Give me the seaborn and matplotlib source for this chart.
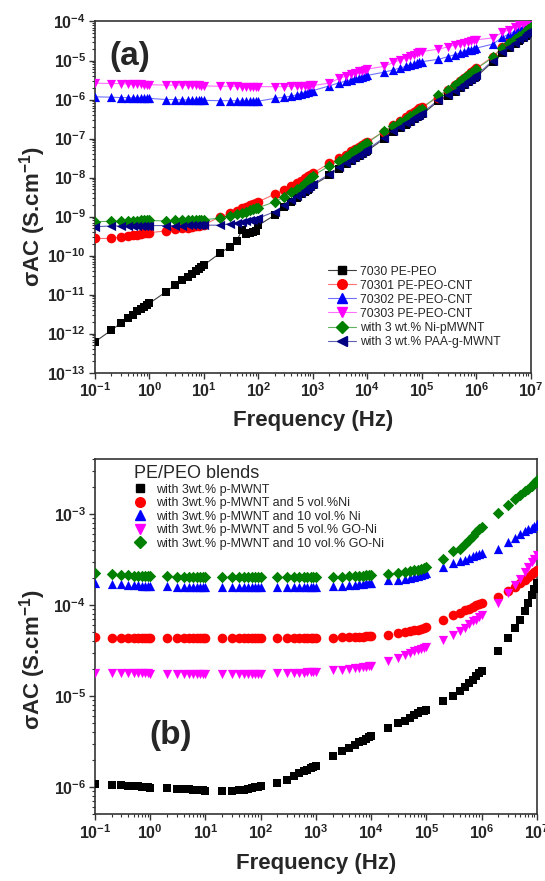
import numpy as np
import pandas as pd
import matplotlib
matplotlib.use("Agg")
import matplotlib.pyplot as plt
import seaborn as sns
from matplotlib.lines import Line2D
from matplotlib.ticker import LogLocator, FuncFormatter, NullFormatter

# ---------------------------------------------------------------- data
# measurement frequencies (Hz)
FREQ = [0.1, 0.2, 0.3, 0.4, 0.5, 0.6, 0.7, 0.8, 0.9,
        1, 2, 3, 4, 5, 6, 7, 8, 9,
        10, 20, 30, 40, 50, 60, 70, 80, 90,
        100, 200, 300, 400, 500, 600, 700, 800, 900,
        1e3, 2e3, 3e3, 4e3, 5e3, 6e3, 7e3, 8e3, 9e3,
        1e4, 2e4, 3e4, 4e4, 5e4, 6e4, 7e4, 8e4, 9e4,
        1e5, 2e5, 3e5, 4e5, 5e5, 6e5, 7e5, 8e5, 9e5,
        1e6, 2e6, 3e6, 4e6, 5e6, 6e6, 7e6, 8e6, 9e6,
        1e7]

# (a) log10 of AC conductivity (S/cm)
A_LABELS = ["7030 PE-PEO", "70301 PE-PEO-CNT", "70302 PE-PEO-CNT",
            "70303 PE-PEO-CNT", "with 3 wt.% Ni-pMWNT", "with 3 wt.% PAA-g-MWNT"]

A_7030 = [-12.21, -11.91, -11.73, -11.61, -11.51, -11.43, -11.37, -11.31, -11.26,
          -11.22, -10.93, -10.75, -10.63, -10.54, -10.46, -10.39, -10.34, -10.29,
          -10.24, -9.93, -9.77, -9.62, -9.34, -9.45, -9.41, -9.39, -9.37,
          -9.22, -8.96, -8.76, -8.62, -8.52, -8.43, -8.36, -8.31, -8.25,
          -8.20, -7.94, -7.77, -7.66, -7.57, -7.50, -7.44, -7.39, -7.35,
          -7.31, -7.01, -6.84, -6.73, -6.64, -6.57, -6.51, -6.46, -6.42,
          -6.38, -6.04, -5.92, -5.80, -5.70, -5.62, -5.56, -5.50, -5.45,
          -5.41, -5.03, -4.82, -4.68, -4.58, -4.49, -4.42, -4.36, -4.30,
          -4.25]
A_70301 = [-9.56, -9.56, -9.52, -9.50, -9.48, -9.46, -9.45, -9.43, -9.42,
           -9.41, -9.37, -9.33, -9.30, -9.28, -9.26, -9.25, -9.23, -9.22,
           -9.21, -9.00, -8.92, -8.85, -8.79, -8.75, -8.71, -8.68, -8.65,
           -8.62, -8.42, -8.32, -8.22, -8.15, -8.08, -8.02, -7.97, -7.93,
           -7.89, -7.63, -7.51, -7.41, -7.33, -7.26, -7.21, -7.16, -7.12,
           -7.08, -6.82, -6.65, -6.54, -6.45, -6.38, -6.32, -6.27, -6.22,
           -6.18, -5.95, -5.76, -5.63, -5.52, -5.44, -5.37, -5.30, -5.25,
           -5.20, -4.90, -4.65, -4.52, -4.42, -4.34, -4.27, -4.21, -4.16,
           -4.10]
A_70302 = [-5.93, -5.94, -5.95, -5.95, -5.96, -5.96, -5.96, -5.97, -5.97,
           -5.97, -6.00, -6.00, -6.01, -6.01, -6.01, -6.01, -6.01, -6.02,
           -6.02, -6.03, -6.03, -6.03, -6.04, -6.04, -6.04, -6.04, -6.04,
           -6.04, -5.97, -5.94, -5.91, -5.88, -5.85, -5.83, -5.81, -5.79,
           -5.77, -5.65, -5.57, -5.53, -5.49, -5.46, -5.44, -5.42, -5.40,
           -5.38, -5.30, -5.24, -5.19, -5.15, -5.12, -5.09, -5.07, -5.05,
           -5.03, -4.97, -4.90, -4.85, -4.81, -4.77, -4.74, -4.72, -4.70,
           -4.68, -4.58, -4.40, -4.32, -4.25, -4.19, -4.14, -4.10, -4.06,
           -4.02]
A_70303 = [-5.58, -5.59, -5.59, -5.60, -5.60, -5.61, -5.61, -5.62, -5.62,
           -5.62, -5.63, -5.63, -5.63, -5.64, -5.64, -5.64, -5.64, -5.65,
           -5.65, -5.66, -5.66, -5.66, -5.67, -5.67, -5.67, -5.67, -5.67,
           -5.67, -5.67, -5.67, -5.66, -5.66, -5.66, -5.65, -5.65, -5.64,
           -5.64, -5.58, -5.46, -5.40, -5.35, -5.31, -5.28, -5.26, -5.24,
           -5.22, -5.15, -5.05, -4.98, -4.93, -4.88, -4.85, -4.82, -4.79,
           -4.77, -4.71, -4.65, -4.60, -4.57, -4.54, -4.52, -4.50, -4.48,
           -4.47, -4.42, -4.28, -4.21, -4.15, -4.10, -4.06, -4.03, -4.00,
           -3.97]
A_NI = [-9.13, -9.12, -9.12, -9.11, -9.11, -9.11, -9.10, -9.10, -9.10,
        -9.10, -9.11, -9.10, -9.10, -9.09, -9.09, -9.09, -9.08, -9.08,
        -9.08, -9.04, -8.98, -8.94, -8.90, -8.87, -8.84, -8.81, -8.79,
        -8.77, -8.62, -8.49, -8.38, -8.30, -8.23, -8.15, -8.08, -8.01,
        -7.95, -7.70, -7.57, -7.46, -7.37, -7.30, -7.24, -7.19, -7.15,
        -7.11, -6.81, -6.69, -6.58, -6.49, -6.42, -6.36, -6.31, -6.27,
        -6.23, -5.89, -5.76, -5.63, -5.52, -5.44, -5.37, -5.31, -5.26,
        -5.21, -4.92, -4.67, -4.55, -4.46, -4.38, -4.31, -4.25, -4.20,
        -4.15]
A_PAA = [-9.26, -9.24, -9.24, -9.24, -9.24, -9.23, -9.23, -9.23, -9.23,
         -9.23, -9.23, -9.23, -9.23, -9.22, -9.22, -9.22, -9.22, -9.22,
         -9.22, -9.22, -9.18, -9.16, -9.14, -9.12, -9.10, -9.08, -9.06,
         -9.04, -8.87, -8.70, -8.58, -8.48, -8.40, -8.33, -8.28, -8.22,
         -8.17, -7.91, -7.74, -7.63, -7.54, -7.47, -7.41, -7.36, -7.32,
         -7.28, -6.98, -6.81, -6.70, -6.61, -6.54, -6.48, -6.43, -6.39,
         -6.35, -6.01, -5.89, -5.77, -5.67, -5.59, -5.53, -5.47, -5.42,
         -5.38, -5.00, -4.79, -4.65, -4.55, -4.46, -4.39, -4.33, -4.27,
         -4.22]

# (b) log10 of AC conductivity (S/cm), PE/PEO blends
B_LABELS = ["with 3wt.% p-MWNT",
            "with 3wt.% p-MWNT and 5 vol.%Ni",
            "with 3wt.% p-MWNT and 10 vol.% Ni",
            "with 3wt.% p-MWNT and 5 vol.% GO-Ni",
            "with 3wt.% p-MWNT and 10 vol.% GO-Ni"]

B_PMWNT = [-5.97, -5.98, -5.98, -5.99, -5.99, -5.99, -6.00, -6.00, -6.00,
           -6.01, -6.01, -6.02, -6.02, -6.02, -6.03, -6.03, -6.03, -6.03,
           -6.04, -6.04, -6.04, -6.03, -6.03, -6.02, -6.01, -6.00, -6.00,
           -5.99, -5.96, -5.92, -5.88, -5.85, -5.83, -5.81, -5.79, -5.78,
           -5.77, -5.66, -5.61, -5.57, -5.54, -5.51, -5.49, -5.47, -5.45,
           -5.44, -5.35, -5.30, -5.27, -5.24, -5.21, -5.19, -5.17, -5.16,
           -5.15, -5.06, -5.00, -4.95, -4.90, -4.86, -4.82, -4.78, -4.75,
           -4.73, -4.51, -4.36, -4.25, -4.16, -4.07, -3.98, -3.89, -3.82,
           -3.76]
B_NI5 = [-4.35, -4.36, -4.36, -4.36, -4.36, -4.36, -4.36, -4.36, -4.36,
         -4.36, -4.36, -4.36, -4.36, -4.36, -4.36, -4.36, -4.36, -4.36,
         -4.36, -4.36, -4.36, -4.36, -4.36, -4.36, -4.36, -4.36, -4.36,
         -4.36, -4.36, -4.36, -4.36, -4.36, -4.36, -4.36, -4.36, -4.36,
         -4.36, -4.36, -4.35, -4.35, -4.35, -4.35, -4.35, -4.34, -4.34,
         -4.34, -4.33, -4.31, -4.30, -4.29, -4.28, -4.27, -4.26, -4.25,
         -4.24, -4.16, -4.11, -4.09, -4.06, -4.04, -4.02, -4.00, -3.99,
         -3.98, -3.91, -3.85, -3.80, -3.76, -3.72, -3.69, -3.66, -3.64,
         -3.61]
B_NI10 = [-3.76, -3.77, -3.77, -3.78, -3.78, -3.78, -3.79, -3.79, -3.79,
          -3.79, -3.79, -3.80, -3.80, -3.80, -3.80, -3.80, -3.80, -3.80,
          -3.80, -3.80, -3.80, -3.80, -3.80, -3.80, -3.80, -3.80, -3.80,
          -3.80, -3.80, -3.80, -3.80, -3.80, -3.80, -3.80, -3.80, -3.80,
          -3.80, -3.79, -3.79, -3.78, -3.78, -3.77, -3.77, -3.76, -3.76,
          -3.76, -3.73, -3.72, -3.71, -3.70, -3.69, -3.68, -3.67, -3.66,
          -3.65, -3.58, -3.54, -3.52, -3.50, -3.48, -3.46, -3.45, -3.44,
          -3.43, -3.38, -3.31, -3.26, -3.22, -3.19, -3.17, -3.15, -3.13,
          -3.11]
B_GONI5 = [-4.75, -4.75, -4.75, -4.75, -4.75, -4.75, -4.75, -4.75, -4.75,
           -4.76, -4.76, -4.76, -4.76, -4.76, -4.76, -4.76, -4.76, -4.76,
           -4.76, -4.76, -4.76, -4.76, -4.76, -4.76, -4.76, -4.76, -4.76,
           -4.76, -4.75, -4.75, -4.75, -4.75, -4.75, -4.74, -4.74, -4.74,
           -4.74, -4.72, -4.71, -4.70, -4.69, -4.69, -4.68, -4.68, -4.67,
           -4.67, -4.62, -4.58, -4.55, -4.53, -4.51, -4.49, -4.48, -4.47,
           -4.46, -4.38, -4.33, -4.29, -4.25, -4.21, -4.18, -4.16, -4.13,
           -4.11, -3.98, -3.87, -3.78, -3.71, -3.64, -3.58, -3.53, -3.49,
           -3.45]
B_GONI10 = [-3.65, -3.66, -3.67, -3.67, -3.68, -3.68, -3.68, -3.68, -3.68,
            -3.68, -3.68, -3.69, -3.69, -3.69, -3.69, -3.69, -3.69, -3.69,
            -3.69, -3.69, -3.69, -3.69, -3.69, -3.69, -3.69, -3.69, -3.69,
            -3.69, -3.69, -3.69, -3.69, -3.69, -3.69, -3.69, -3.69, -3.69,
            -3.69, -3.69, -3.69, -3.68, -3.68, -3.68, -3.68, -3.67, -3.67,
            -3.67, -3.66, -3.65, -3.64, -3.63, -3.62, -3.61, -3.60, -3.59,
            -3.58, -3.49, -3.41, -3.38, -3.33, -3.28, -3.24, -3.20, -3.17,
            -3.14, -2.99, -2.90, -2.84, -2.79, -2.75, -2.72, -2.69, -2.66,
            -2.63]

# ---------------------------------------------------------------- styles
MARK_COLORS = ["#000000", "#ff0000", "#0000ff", "#ff00ff", "#008000", "#000080"]
LINE_COLORS = ["#404040", "#ff7070", "#7070ff", "#ff70ff", "#60b060", "#6060b0"]
MARKERS = ["s", "o", "^", "v", "D", "<"]
MSIZE = [38, 48, 44, 44, 34, 44]

sns.set_theme(style="ticks")
plt.rcParams["font.family"] = ["Liberation Sans", "DejaVu Sans"]
plt.rcParams["mathtext.fontset"] = "custom"
plt.rcParams["mathtext.rm"] = "Liberation Sans:bold"
plt.rcParams["mathtext.bf"] = "Liberation Sans:bold"
plt.rcParams["mathtext.it"] = "Liberation Sans:bold"

SPINE = "#333333"


def long_frame(labels, series):
    rows = []
    for lab, vals in zip(labels, series):
        rows.append(pd.DataFrame({"freq": FREQ,
                                  "sigma": np.power(10.0, np.asarray(vals)),
                                  "sample": lab}))
    return pd.concat(rows, ignore_index=True)


def decade_label(v, pos):
    return r"$\mathbf{10^{%d}}$" % int(round(np.log10(v)))


def style_axes(ax, xlim, ylim):
    ax.set_xscale("log")
    ax.set_yscale("log")
    ax.set_xlim(*xlim)
    ax.set_ylim(*ylim)
    for axis in (ax.xaxis, ax.yaxis):
        axis.set_major_locator(LogLocator(base=10, numticks=30))
        axis.set_minor_locator(LogLocator(base=10, subs=np.arange(2, 10), numticks=30))
        axis.set_major_formatter(FuncFormatter(decade_label))
        axis.set_minor_formatter(NullFormatter())
    ax.tick_params(which="major", direction="out", length=4.5, width=1.0,
                   color=SPINE, labelsize=11.5, pad=2, top=False, right=False)
    ax.tick_params(which="minor", direction="out", length=2.5, width=0.8,
                   color=SPINE, top=False, right=False)
    for sp in ax.spines.values():
        sp.set_visible(True)
        sp.set_color(SPINE)
        sp.set_linewidth(1.2)
    ax.set_xlabel("Frequency (Hz)", fontsize=16, fontweight="bold", va="top")
    ax.set_ylabel("σAC (S.cm$^{\\mathbf{-1}}$)", fontsize=16, fontweight="bold")


fig = plt.figure(figsize=(5.45, 8.81), dpi=100)
ax_a = fig.add_axes([0.1743, 0.5770, 0.800, 0.3986])
ax_b = fig.add_axes([0.1743, 0.0757, 0.811, 0.4030])

# ---------------------------------------------------------------- panel (a)
df_a = long_frame(A_LABELS, [A_7030, A_70301, A_70302, A_70303, A_NI, A_PAA])
style_axes(ax_a, (0.1, 1e7), (1e-13, 1e-4))
sns.lineplot(data=df_a, x="freq", y="sigma", hue="sample",
             palette=dict(zip(A_LABELS, LINE_COLORS)), estimator=None,
             sort=False, linewidth=0.8, legend=False, ax=ax_a)
for lab, col, mk, sz in zip(A_LABELS, MARK_COLORS, MARKERS, MSIZE):
    sns.scatterplot(data=df_a[df_a["sample"] == lab], x="freq", y="sigma",
                    color=col, marker=mk, s=sz, linewidth=0, legend=False,
                    ax=ax_a, zorder=3)

handles_a = [Line2D([], [], color=lc, lw=0.8, marker=mk, markerfacecolor=mc,
                    markeredgecolor=mc, markersize=np.sqrt(sz))
             for lc, mc, mk, sz in zip(LINE_COLORS, MARK_COLORS, MARKERS, MSIZE)]
ax_a.legend(handles_a, A_LABELS, loc="upper left", bbox_to_anchor=(0.534, 0.305),
            frameon=False, fontsize=8.7, handlelength=2.3, handletextpad=0.35,
            labelspacing=0.17, borderpad=0, borderaxespad=0)
ax_a.text(0.08, 0.899, "(a)", transform=ax_a.transAxes, fontsize=24,
          fontweight="bold", ha="center", va="center")
style_axes(ax_a, (0.1, 1e7), (1e-13, 1e-4))
ax_a.xaxis.set_label_coords(0.5, -0.105)
ax_a.yaxis.set_label_coords(-0.108, 0.446)

# ---------------------------------------------------------------- panel (b)
df_b = long_frame(B_LABELS, [B_PMWNT, B_NI5, B_NI10, B_GONI5, B_GONI10])
for lab, col, mk, sz in zip(B_LABELS, MARK_COLORS, MARKERS, MSIZE):
    sns.scatterplot(data=df_b[df_b["sample"] == lab], x="freq", y="sigma",
                    color=col, marker=mk, s=sz, linewidth=0, legend=False,
                    ax=ax_b, zorder=3)
style_axes(ax_b, (0.1, 1e7), (5e-7, 4e-3))

handles_b = [Line2D([], [], lw=0, marker=mk, markerfacecolor=mc,
                    markeredgecolor=mc, markersize=np.sqrt(sz))
             for mc, mk, sz in zip(MARK_COLORS[:5], MARKERS[:5], MSIZE[:5])]
leg_b = ax_b.legend(handles_b, B_LABELS, loc="upper left",
                    bbox_to_anchor=(0.088, 0.983), frameon=False, fontsize=9,
                    title="PE/PEO blends", title_fontsize=13, alignment="left",
                    handlelength=1.0, handletextpad=0.75, labelspacing=0.12,
                    borderpad=0, borderaxespad=0)
ax_b.text(0.17, 0.223, "(b)", transform=ax_b.transAxes, fontsize=24,
          fontweight="bold", ha="center", va="center")
ax_b.xaxis.set_label_coords(0.5, -0.11)
ax_b.yaxis.set_label_coords(-0.107, 0.435)

fig.savefig("out.png", dpi=100)
